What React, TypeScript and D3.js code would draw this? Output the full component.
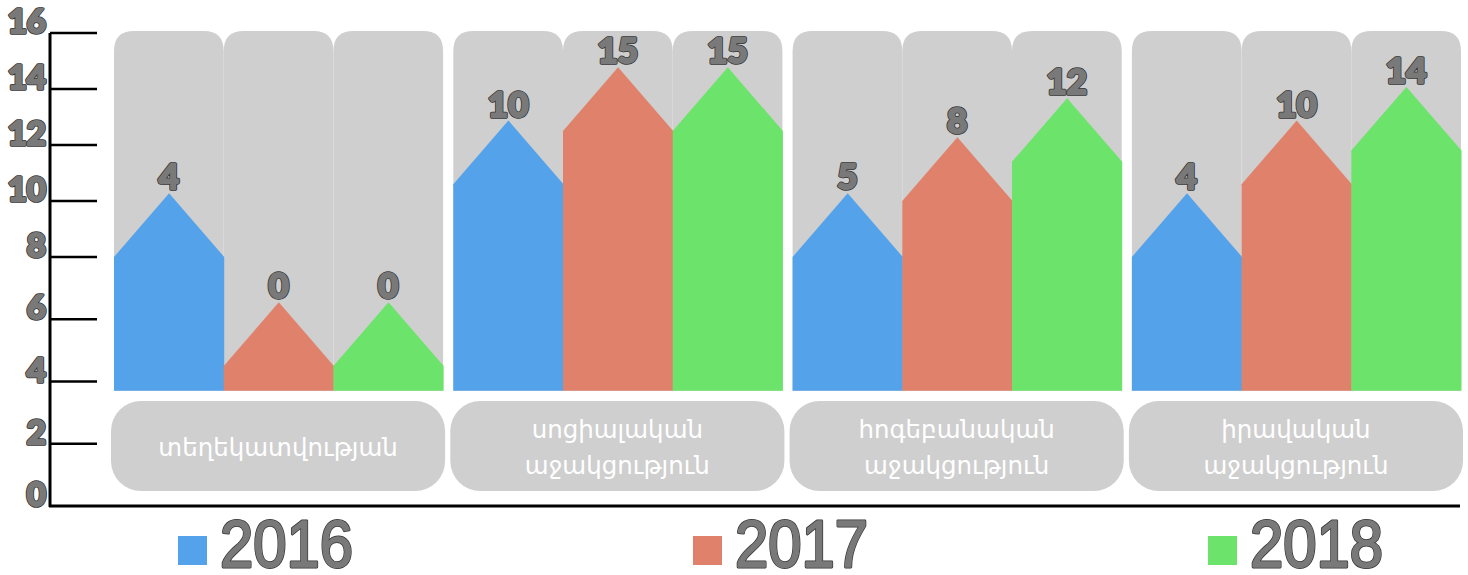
import React from 'react';
import * as d3 from 'd3';

// ==== data

const categories = [
  ['տեղեկատվության'],
  ['սոցիալական', 'աջակցություն'],
  ['հոգեբանական', 'աջակցություն'],
  ['իրավական', 'աջակցություն'],
];
const years = ['2016', '2017', '2018'];
const colors = ['#54a2ea', '#e0826b', '#6ce36b'];

// printed numbers on top of each arrow
const values2016 = [4, 10, 5, 4];
const values2017 = [0, 15, 8, 10];
const values2018 = [0, 15, 12, 14];

// shoulder height of every arrow, as read against the left axis
const heights2016 = [8, 10.6, 8, 8];
const heights2017 = [4.5, 12.5, 10, 10.6];
const heights2018 = [4.5, 12.5, 11.4, 11.8];

const yTicks = [0, 2, 4, 6, 8, 10, 12, 14, 16];
const barBase = 3.7;

// ====

const W = 1468;
const H = 575;

const numFont = 'Lato, "DejaVu Sans", sans-serif';

// grey text with a thin dark rim, drawn twice so the glyphs get heavier
function OutlinedText(props: any) {
  const { children, thick = 2, ...rest } = props;
  return (
    <g>
      <text {...rest} fill="#333" stroke="#333" strokeWidth={thick * 2 + 1.5} strokeLinejoin="round">{children}</text>
      <text {...rest} fill="#797979" stroke="#797979" strokeWidth={thick * 2} strokeLinejoin="round">{children}</text>
    </g>
  );
}

export default function App() {
  const values = [values2016, values2017, values2018];
  const heights = [heights2016, heights2017, heights2018];

  // the axis in the picture is not quite even, so split it in two pieces
  const y = d3.scaleLinear().domain([0, 8, 16]).range([506, 257, 33]);

  const x0 = d3.scaleBand<number>()
    .domain(d3.range(categories.length))
    .range([114, 1461])
    .paddingInner(0.03);
  const x1 = d3.scaleBand<number>()
    .domain(d3.range(years.length))
    .range([0, x0.bandwidth()]);

  const legendX = d3.scalePoint<string>().domain(years).range([178, 1208]);

  const bgTop = y(16) - 2;
  const base = y(barBase);
  const r = 20;
  const peakH = x1.bandwidth() * 0.58;

  const bgPath = (xa: number, w: number) =>
    `M${xa},${base} L${xa},${bgTop + r} Q${xa},${bgTop} ${xa + r},${bgTop} ` +
    `L${xa + w - r},${bgTop} Q${xa + w},${bgTop} ${xa + w},${bgTop + r} L${xa + w},${base} Z`;

  const housePath = (xa: number, w: number, top: number) =>
    `M${xa},${base} L${xa},${top} L${xa + w / 2},${top - peakH} L${xa + w},${top} L${xa + w},${base} Z`;

  return (
    <svg width={W} height={H} style={{ position: 'absolute', left: 0, top: 0, background: '#fff' }}>
      {/* grey columns */}
      {categories.map((c, i) =>
        years.map((yr, j) => (
          <path key={`bg-${i}-${j}`}
            d={bgPath(x0(i)! + x1(j)!, x1.bandwidth())}
            fill="#cfcfcf" />
        ))
      )}

      {/* arrows */}
      {categories.map((c, i) =>
        years.map((yr, j) => {
          const xa = x0(i)! + x1(j)!;
          const top = y(heights[j][i]);
          return (
            <g key={`bar-${i}-${j}`}>
              <path d={housePath(xa, x1.bandwidth() + 0.5, top)} fill={colors[j]} />
              <OutlinedText x={xa + x1.bandwidth() / 2} y={top - peakH - 4}
                textAnchor="middle" fontFamily={numFont} fontWeight={900}
                fontSize={35} thick={1}>
                {values[j][i]}
              </OutlinedText>
            </g>
          );
        })
      )}

      {/* category boxes */}
      {categories.map((lines, i) => {
        const xa = x0(i)! - 3;
        const w = x0.bandwidth() + 5;
        const cy = 447;
        return (
          <g key={`cat-${i}`}>
            <rect x={xa} y={401} width={w} height={90} rx={30} ry={30} fill="#cfcfcf" />
            {lines.map((ln, k) => (
              <text key={k} x={xa + w / 2}
                y={cy + (k - (lines.length - 1) / 2) * 36}
                dy="0.35em" textAnchor="middle"
                fontFamily='"DejaVu Sans", sans-serif' fontSize={24.5} fill="#fff">
                {ln}
              </text>
            ))}
          </g>
        );
      })}

      {/* y axis */}
      <line x1={50} x2={50} y1={y(16)} y2={y(0) + 1} stroke="#000" strokeWidth={3} />
      <line x1={49} x2={1460} y1={y(0)} y2={y(0)} stroke="#000" strokeWidth={3} />
      {yTicks.filter((t) => t > 0).map((t) => (
        <line key={`tk-${t}`} x1={50} x2={97} y1={y(t)} y2={y(t)} stroke="#000" strokeWidth={2.5} />
      ))}
      {yTicks.map((t) => (
        <OutlinedText key={`yl-${t}`} x={46} y={y(t)} textAnchor="end"
          fontFamily={numFont} fontWeight={900} fontSize={33} thick={1}>
          {t}
        </OutlinedText>
      ))}

      {/* legend */}
      {years.map((yr, j) => (
        <g key={`lg-${yr}`}>
          <rect x={legendX(yr)} y={536} width={29} height={29} fill={colors[j]} />
          <OutlinedText x={legendX(yr)! + 42} y={567} fontFamily='"Liberation Sans", Arial, sans-serif'
            fontSize={67} thick={0.7}
            textLength={133} lengthAdjust="spacingAndGlyphs">
            {yr}
          </OutlinedText>
        </g>
      ))}
    </svg>
  );
}
